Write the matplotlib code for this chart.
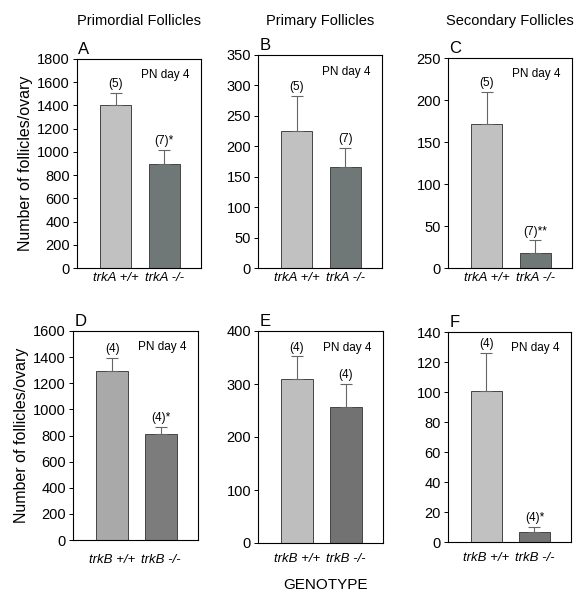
import matplotlib
matplotlib.use('Agg')
import matplotlib.pyplot as plt
import numpy as np

plt.rcParams['font.family'] = ['Liberation Sans', 'DejaVu Sans']

# Values (mean, top of error bar, n labels)
panel_letters = ['A', 'B', 'C', 'D', 'E', 'F']
genotype_a = ['trkA +/+', 'trkA -/-']
genotype_b = ['trkB +/+', 'trkB -/-']
means_a = [1400, 900]
errtop_a = [1510, 1020]
means_b = [225, 166]
errtop_b = [283, 197]
means_c = [172, 18]
errtop_c = [210, 33]
means_d = [1290, 815]
errtop_d = [1395, 865]
means_e = [310, 256]
errtop_e = [352, 300]
means_f = [101, 7]
errtop_f = [126, 10]
n_labels = [['(5)', '(7)*'], ['(5)', '(7)'], ['(5)', '(7)**'],
            ['(4)', '(4)*'], ['(4)', '(4)'], ['(4)', '(4)*']]
yticks = [np.arange(0, 1801, 200), np.arange(0, 351, 50), np.arange(0, 251, 50),
          np.arange(0, 1601, 200), np.arange(0, 401, 100), np.arange(0, 141, 20)]
column_titles = ['Primordial Follicles', 'Primary Follicles', 'Secondary Follicles']

means = [means_a, means_b, means_c, means_d, means_e, means_f]
errtops = [errtop_a, errtop_b, errtop_c, errtop_d, errtop_e, errtop_f]
labels = [genotype_a] * 3 + [genotype_b] * 3

W, H = 586, 600
# axes boxes in pixels: left, top, right, bottom
boxes = [(77, 59, 201, 268), (258, 55, 382, 268), (448, 58, 572, 268),
         (73, 331, 198, 540), (258, 331, 383, 543), (448, 332, 571, 542)]
xpads = [3, 3, 3, 10, 7, 7]
colors = [('#c1c1c1', '#6f7777'), ('#c1c1c1', '#6f7777'), ('#c1c1c1', '#6f7777'),
          ('#a9a9a9', '#7c7c7c'), ('#bebebe', '#727272'), ('#c1c1c1', '#747474')]

fig = plt.figure(figsize=(W / 100, H / 100), dpi=100)

for i in range(6):
    l, t, r, b = boxes[i]
    ax = fig.add_axes([l / W, 1 - b / H, (r - l) / W, (b - t) / H])
    x = np.arange(2)
    m = np.array(means[i])
    e = np.array(errtops[i]) - m
    ax.bar(x, m, width=0.64, color=colors[i], edgecolor='#444444', linewidth=0.7, zorder=2)
    ax.errorbar(x, m, yerr=[np.zeros(2), e], fmt='none', ecolor='#666666',
                elinewidth=0.8, capsize=4, capthick=0.8, zorder=3)
    for j in range(2):
        ax.annotate(n_labels[i][j], (x[j], errtops[i][j]), xytext=(0, 2),
                    textcoords='offset points', ha='center', va='bottom', fontsize=8.5)
    ax.set_xlim(-0.8, 1.76)
    ax.set_ylim(0, yticks[i][-1])
    ax.set_yticks(yticks[i])
    ax.tick_params(axis='y', direction='out', length=3, width=0.7, labelsize=10.5, pad=2)
    ax.set_xticks(x)
    ax.set_xticklabels(labels[i], style='italic', fontsize=9.5)
    ax.tick_params(axis='x', length=0, pad=xpads[i])
    for s in ax.spines.values():
        s.set_linewidth(0.8)
    ax.text(0.91, 0.95, 'PN day 4', transform=ax.transAxes, ha='right', va='top', fontsize=8.5)
    ax.text(0.01, 1.01, panel_letters[i], transform=ax.transAxes, ha='left', va='bottom', fontsize=12)
    if i in (0, 3):
        ax.set_ylabel('Number of follicles/ovary', fontsize=11.5, labelpad=3)
    if i < 3:
        fig.text((l + r) / 2 / W, 1 - 21 / H, column_titles[i], ha='center', va='center',
                 fontsize=10.5)

fig.text(325 / W, 1 - 585 / H, 'GENOTYPE', ha='center', va='center', fontsize=11)

fig.savefig('out.png', dpi=100)
